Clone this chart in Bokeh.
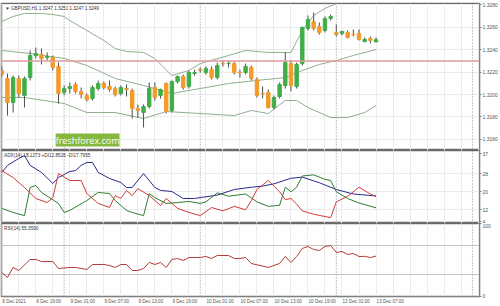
from bokeh.plotting import figure
from bokeh.models import Range1d, FixedTicker, Span, Label, NumeralTickFormatter, ColumnDataSource
from bokeh.layouts import column
from bokeh.embed import file_html
from bokeh.resources import INLINE

# ---------------- data ----------------
symbol_title = "\u25bc GBPUSD,H1  1.3247 1.3251 1.3247 1.3249"
adx_title = "ADX(14) 18.1273 +DI12.8526 -DI17.7955"
rsi_title = "RSI(14) 55.3590"

tick_idx = [0, 6, 12, 18, 24, 30, 36, 42, 48, 54, 60, 66]
tick_labels = ["8 Dec 2021", "8 Dec 19:00", "9 Dec 01:00", "9 Dec 07:00", "9 Dec 13:00",
               "9 Dec 19:00", "10 Dec 01:00", "10 Dec 07:00", "10 Dec 13:00",
               "10 Dec 19:00", "13 Dec 01:00", "13 Dec 07:00"]
separator_idx = [11, 35, 59, 83]

opens = [1.32215, 1.32143, 1.31929, 1.32143, 1.31992, 1.32152, 1.32349, 1.32358, 1.32331, 1.32331,
         1.32251, 1.32019, 1.32054, 1.32090, 1.32028, 1.31992, 1.31965, 1.32054, 1.32099, 1.32072,
         1.32054, 1.32010, 1.32054, 1.32036, 1.31876, 1.31840, 1.31893, 1.32063, 1.31992, 1.32099,
         1.31858, 1.32117, 1.32161, 1.32072, 1.32188, 1.32224, 1.32197, 1.32224, 1.32152, 1.32277,
         1.32277, 1.32277, 1.32197, 1.32197, 1.32242, 1.32135, 1.32010, 1.32019, 1.31885, 1.31983,
         1.32081, 1.32277, 1.32072, 1.32277, 1.32590, 1.32652, 1.32608, 1.32572, 1.32679, 1.32554,
         1.32545, 1.32554, 1.32536, 1.32545, 1.32474, 1.32501, 1.32470]
highs = [1.32251, 1.32188, 1.32170, 1.32170, 1.32161, 1.32394, 1.32420, 1.32411, 1.32376, 1.32349,
         1.32286, 1.32081, 1.32108, 1.32108, 1.32063, 1.32010, 1.32081, 1.32126, 1.32117, 1.32126,
         1.32072, 1.32081, 1.32090, 1.32054, 1.31911, 1.31911, 1.32108, 1.32108, 1.32054, 1.32108,
         1.32126, 1.32170, 1.32179, 1.32215, 1.32224, 1.32242, 1.32251, 1.32251, 1.32286, 1.32304,
         1.32304, 1.32295, 1.32224, 1.32277, 1.32260, 1.32152, 1.32072, 1.32045, 1.31992, 1.32108,
         1.32376, 1.32304, 1.32286, 1.32608, 1.32706, 1.32733, 1.32644, 1.32697, 1.32715, 1.32626,
         1.32572, 1.32572, 1.32581, 1.32581, 1.32510, 1.32519, 1.32510]
lows = [1.32161, 1.31813, 1.31840, 1.31974, 1.31885, 1.32126, 1.32322, 1.32269, 1.32304, 1.32215,
        1.31920, 1.31992, 1.32010, 1.32010, 1.31965, 1.31938, 1.31947, 1.32036, 1.32045, 1.32028,
        1.31983, 1.31992, 1.31983, 1.31786, 1.31795, 1.31706, 1.31876, 1.31947, 1.31965, 1.31831,
        1.31840, 1.32099, 1.32045, 1.32054, 1.32170, 1.32197, 1.32179, 1.32135, 1.32135, 1.32251,
        1.32242, 1.32179, 1.32152, 1.32179, 1.32126, 1.31974, 1.31965, 1.31876, 1.31867, 1.31965,
        1.32054, 1.32028, 1.32054, 1.32260, 1.32572, 1.32572, 1.32536, 1.32554, 1.32661, 1.32519,
        1.32527, 1.32501, 1.32519, 1.32483, 1.32465, 1.32456, 1.32470]
closes = [1.32179, 1.31929, 1.32152, 1.32010, 1.32143, 1.32349, 1.32367, 1.32322, 1.32340, 1.32242,
          1.32010, 1.32054, 1.32072, 1.32028, 1.32001, 1.31956, 1.32063, 1.32099, 1.32063, 1.32045,
          1.32001, 1.32063, 1.32045, 1.31876, 1.31858, 1.31893, 1.32054, 1.31974, 1.32045, 1.31849,
          1.32117, 1.32161, 1.32063, 1.32197, 1.32197, 1.32215, 1.32233, 1.32152, 1.32260, 1.32275,
          1.32279, 1.32197, 1.32195, 1.32251, 1.32143, 1.31992, 1.32008, 1.31885, 1.31974, 1.32090,
          1.32286, 1.32081, 1.32269, 1.32599, 1.32670, 1.32590, 1.32554, 1.32679, 1.32697, 1.32536,
          1.32563, 1.32510, 1.32534, 1.32492, 1.32492, 1.32483, 1.32490]

alert_level = 1.3230

bb_upper_idx = [0, 2, 4, 7, 9, 11, 12, 15, 18, 20, 22, 25, 27, 30, 33, 35, 40, 43, 47, 51, 53, 55, 57, 59, 62, 66]
bb_upper = [1.32652, 1.32697, 1.32724, 1.32724, 1.32715, 1.32697, 1.32661, 1.32572, 1.32483, 1.32411,
            1.32385, 1.32376, 1.32322, 1.32170, 1.32215, 1.32277, 1.32349, 1.32394, 1.32376, 1.32376,
            1.32572, 1.32706, 1.32769, 1.32813, 1.32885, 1.32903]
bb_mid_idx = [0, 5, 11, 15, 20, 25, 30, 35, 40, 45, 50, 53, 56, 59, 62, 66]
bb_mid = [1.32394, 1.32367, 1.32322, 1.32260, 1.32144, 1.32081, 1.32010, 1.32054, 1.32099, 1.32126,
          1.32152, 1.32215, 1.32269, 1.32304, 1.32349, 1.32402]
bb_lower_idx = [0, 4, 11, 15, 20, 25, 29, 35, 41, 44, 47, 50, 52, 54, 58, 61, 64, 66]
bb_lower = [1.31974, 1.31974, 1.31920, 1.31840, 1.31840, 1.31786, 1.31849, 1.31831, 1.31813, 1.31858,
            1.31831, 1.31947, 1.31947, 1.31885, 1.31795, 1.31795, 1.31840, 1.31902]

adx_idx = [0, 1, 3, 4, 5, 7, 9, 10, 12, 13, 14, 15, 16, 17, 19, 21, 22, 23, 25, 27, 28, 30, 32, 34, 35,
           38, 41, 44, 46, 48, 51, 53, 56, 59, 62, 66]
adx = [28.6, 31.7, 34.8, 36.1, 31.7, 28.6, 23.7, 26.3, 29.0, 29.4, 31.7, 33.0, 33.0, 28.6, 25.9, 24.1,
       21.9, 21.9, 28.1, 21.9, 20.6, 20.1, 17.0, 17.0, 17.4,
       18.5, 21.0, 22.0, 22.5, 23.5, 26.0, 26.5, 24.0, 21.0, 19.0, 18.13]
pdi_idx = [0, 2, 4, 5, 6, 7, 10, 11, 12, 15, 17, 19, 20, 22, 23, 25, 26, 27, 29, 31, 33, 35,
           36, 38, 40, 43, 45, 47, 49, 50, 51, 52, 53, 55, 57, 58, 59, 61, 63, 66]
pdi = [12.6, 10.8, 9.4, 21.9, 22.8, 19.7, 14.8, 10.8, 11.7, 16.1, 19.7, 19.2, 16.1, 11.7, 10.8, 9.4,
       19.2, 17.4, 14.8, 15.2, 15.7, 14.8,
       15.5, 19.5, 18.0, 19.0, 15.5, 13.5, 14.0, 22.0, 20.0, 22.0, 27.0, 27.5, 25.5, 25.0, 20.0, 17.0,
       15.0, 12.85]
mdi_idx = [0, 2, 4, 6, 8, 9, 10, 12, 14, 15, 17, 19, 20, 21, 22, 23, 24, 26, 28, 29, 31, 33, 35,
           37, 39, 41, 43, 44, 45, 46, 47, 48, 49, 50, 51, 52, 53, 55, 58, 59, 61, 63, 65, 66]
mdi = [29.4, 26.3, 21.9, 17.0, 15.2, 17.4, 28.1, 25.0, 25.0, 19.2, 14.8, 13.0, 18.3, 17.0, 20.6, 18.3,
       21.4, 18.3, 13.9, 17.0, 12.6, 10.8, 9.4,
       13.0, 11.5, 13.5, 12.0, 16.0, 21.0, 23.0, 25.0, 22.5, 20.0, 16.5, 17.0, 14.5, 11.5, 10.0, 8.5,
       15.5, 18.0, 22.0, 19.0, 17.8]

rsi_idx = [0, 1, 2, 3, 5, 6, 7, 9, 10, 12, 13, 15, 16, 18, 19, 20, 21, 22, 23, 24, 25, 26, 27, 28,
           29, 30, 31, 32, 33, 35, 36, 37, 38, 40, 41, 42, 43, 44, 47, 49, 50, 51, 52, 53, 54, 55,
           56, 57, 58, 59, 60, 61, 62, 63, 64, 65, 66]
rsi = [32.8, 25.9, 39.7, 35.5, 50.7, 50.7, 47.9, 47.9, 38.3, 39.7, 39.7, 36.9, 43.8, 43.8, 42.4, 39.7,
       43.8, 43.8, 35.5, 35.5, 38.3, 46.6, 43.8, 46.6, 39.7, 50.7, 52.1, 49.3, 53.4, 53.4, 54.8, 52.1,
       56.2, 56.2, 52.1, 52.1, 53.4, 45.2, 39.7, 45.2, 54.8, 46.6, 54.8, 65.9, 68.6, 64.5, 63.1, 68.6,
       70.0, 60.3, 61.7, 57.6, 59.0, 54.8, 55.0, 53.4, 55.36]

# ---------------- styling ----------------
BULL = "#3fae49"
BEAR = "#f39a2b"
WICK = "#4d4d4d"
BAND = "#8fae8f"
GRID = "#ececec"
AXIS_TXT = "#555555"
FONT = "Liberation Sans"
X_START, X_END = -0.05, 84.25
PX_PER_BAR = 5.68
TIME_FONT_PX = 4.6

x_range = Range1d(X_START, X_END)


def make_fig(h, yr, top, bottom, with_x=False):
    p = figure(width=500, height=h, x_range=x_range, y_range=Range1d(*yr),
               output_backend="svg", toolbar_location=None,
               y_axis_location="right", x_axis_location="below" if with_x else None,
               min_border_left=1, min_border_right=20, min_border_top=top,
               min_border_bottom=bottom)
    p.background_fill_color = "white"
    p.border_fill_color = "white"
    p.outline_line_color = "#6a6a6a"
    p.outline_line_width = 1.5
    yax = p.yaxis[0]
    yax.axis_line_color = "#808080"
    yax.major_tick_line_color = "#808080"
    yax.major_tick_out = 2
    yax.major_tick_in = 0
    yax.minor_tick_line_color = None
    yax.major_label_standoff = 1
    yax.major_label_text_font_size = "5px"
    yax.major_label_text_font = FONT
    yax.major_label_text_color = AXIS_TXT
    p.xgrid.ticker = FixedTicker(ticks=list(range(0, 85, 3)))
    p.xgrid.grid_line_color = GRID
    p.ygrid.grid_line_color = GRID
    for s in separator_idx:
        p.add_layout(Span(location=s, dimension="height", line_color="#8a8a8a",
                          line_dash="1 2", line_width=1))
    return p


# ---------------- main price panel ----------------
P_LO, P_HI = 1.31501, 1.32813
p1 = make_fig(150, (P_LO, P_HI), 3, 0)
price_ticks = [1.3160, 1.3180, 1.3200, 1.3220, 1.3240, 1.3260, 1.3280]
p1.yaxis[0].ticker = FixedTicker(ticks=price_ticks)
p1.yaxis[0].formatter = NumeralTickFormatter(format="0.0000")
p1.ygrid.ticker = FixedTicker(ticks=price_ticks)

bars = list(range(len(opens)))
colors = [BULL if c >= o else BEAR for o, c in zip(opens, closes)]
src = ColumnDataSource(dict(x=bars, o=opens, h=highs, l=lows, c=closes, col=colors,
                            top=[max(o, c) for o, c in zip(opens, closes)],
                            bot=[min(o, c) for o, c in zip(opens, closes)]))

p1.line(bb_upper_idx, bb_upper, line_color=BAND, line_width=1)
p1.line(bb_mid_idx, bb_mid, line_color=BAND, line_width=1)
p1.line(bb_lower_idx, bb_lower, line_color=BAND, line_width=1)
p1.add_layout(Span(location=alert_level, dimension="width", line_color="#e39a9a", line_width=1.5))
p1.segment(x0="x", y0="h", x1="x", y1="l", source=src, line_color=WICK, line_width=1)
p1.vbar(x="x", width=0.6, top="top", bottom="bot", source=src, fill_color="col",
        line_color="col", line_width=1)

p1.add_layout(Label(x=0.6, y=P_HI, text=symbol_title, text_font=FONT, text_font_size="4.6px",
                    text_color="#333333", text_baseline="top", y_offset=-2))
p1.add_layout(Label(x=9.5, y=P_LO, text="freshforex.com", text_font="Open Sans",
                    text_font_size="9px", text_color="white", background_fill_color="#86b83f",
                    text_baseline="bottom", y_offset=4))
p1.add_layout(Label(x=X_END, y=closes[-1], text="1.3249", text_font=FONT, text_font_size="5px",
                    text_color="white", background_fill_color="#0a1a7a", text_baseline="middle",
                    x_offset=1))
p1.add_layout(Label(x=X_END, y=alert_level, text="1.3230", text_font=FONT, text_font_size="5px",
                    text_color="white", background_fill_color="#e02525", text_baseline="middle",
                    x_offset=1))

# ---------------- ADX panel ----------------
A_LO, A_HI = 5.89, 38.33
p2 = make_fig(73, (A_LO, A_HI), 0, 0)
p2.yaxis[0].ticker = FixedTicker(ticks=[6.6, 12, 20, 28, 37])
p2.yaxis[0].major_label_overrides = {6.6: "4"}
p2.ygrid.ticker = FixedTicker(ticks=[12, 20, 28])
p2.line(adx_idx, adx, line_color="#2a2a8c", line_width=1)
p2.line(pdi_idx, pdi, line_color="#2e7d32", line_width=1)
p2.line(mdi_idx, mdi, line_color="#d23a3a", line_width=1)
p2.add_layout(Label(x=0.4, y=A_HI, text=adx_title, text_font=FONT, text_font_size="4.7px",
                    text_color="#333333", text_baseline="top", y_offset=-2))

# ---------------- RSI panel ----------------
R_LO, R_HI = -0.34, 100.3
p3 = make_fig(83, (R_LO, R_HI), 0, 10, with_x=True)
p3.yaxis[0].ticker = FixedTicker(ticks=[0, 100])
p3.ygrid.ticker = FixedTicker(ticks=[30, 70])
p3.ygrid.grid_line_color = "#c4c4c4"
p3.line(rsi_idx, rsi, line_color="#b03a3a", line_width=1)
p3.add_layout(Label(x=0.4, y=R_HI, text=rsi_title, text_font=FONT, text_font_size="4.7px",
                    text_color="#333333", text_baseline="top", y_offset=-2))
for lv in [70, 30]:
    p3.add_layout(Label(x=X_END, y=lv, text=str(lv), text_font=FONT, text_font_size="5px",
                        text_color="#e6e6e6", background_fill_color="#cfcfcf",
                        text_baseline="middle", x_offset=1))

# time labels start at their bar (MetaTrader style): centre each label half its width to the right
CHAR_EM = {" ": 0.278, ":": 0.278, "D": 0.722, "e": 0.556, "c": 0.5}


def half_width_bars(s):
    em = sum(CHAR_EM.get(ch, 0.556) for ch in s)
    return round(em * TIME_FONT_PX / PX_PER_BAR / 2, 3)


label_pos = [round(t + half_width_bars(s) + 0.1, 3) for t, s in zip(tick_idx, tick_labels)]
xax = p3.xaxis[0]
xax.ticker = FixedTicker(ticks=label_pos)
xax.major_label_overrides = {pos: s for pos, s in zip(label_pos, tick_labels)}
xax.major_label_text_font_size = f"{TIME_FONT_PX}px"
xax.major_label_text_font = FONT
xax.major_label_text_color = AXIS_TXT
xax.major_label_standoff = 2
xax.major_tick_line_color = None
xax.major_tick_out = 0
xax.major_tick_in = 0
xax.minor_tick_line_color = None
xax.axis_line_color = "#808080"

layout = column(p1, p2, p3, spacing=0)
open("out.html", "w").write(file_html(layout, INLINE))
